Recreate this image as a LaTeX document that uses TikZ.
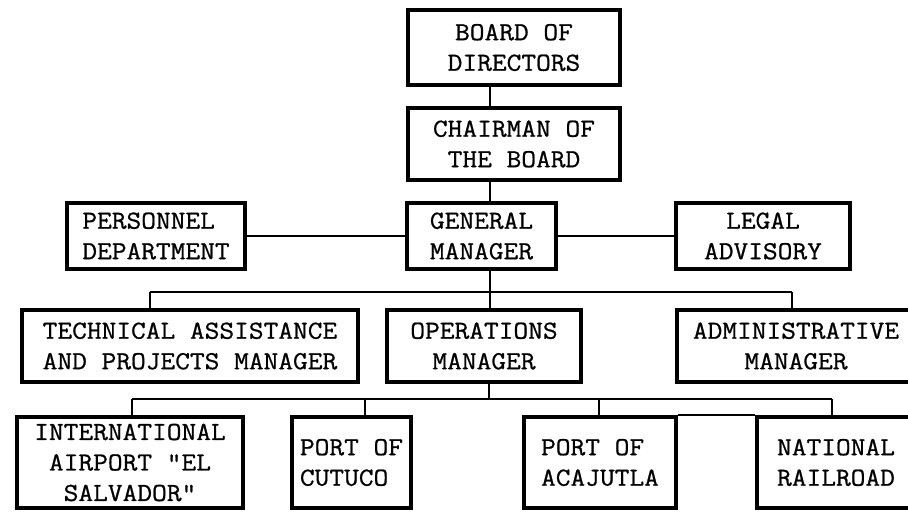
\documentclass[tikz,border=0pt]{standalone}
\usepackage{fontspec}
\newfontfamily\typefont[FakeStretch=1.1,FakeBold=0.8]{Latin Modern Mono}
\begin{document}
\begin{tikzpicture}[x=1pt,y=-1pt,
  orgbox/.style={draw, line width=3.4pt, inner sep=0pt, align=center,
    font=\typefont\fontsize{26}{30.5}\selectfont},
  conn/.style={line width=2pt}]
\useasboundingbox[fill=white] (0,0) rectangle (908,513);
% row 1
\node[orgbox, minimum width=212pt, minimum height=75pt] (board) at (514,47.5) {BOARD OF\\DIRECTORS};
\node[orgbox, minimum width=212pt, minimum height=72pt] (chair) at (514,144) {CHAIRMAN OF\\THE BOARD};
% row 2
\node[orgbox, minimum width=178pt, minimum height=66pt, align=left] (pers) at (156,236) {PERSONNEL\\DEPARTMENT};
\node[orgbox, minimum width=149pt, minimum height=66pt] (gm) at (481.5,236) {GENERAL\\MANAGER};
\node[orgbox, minimum width=174pt, minimum height=66pt] (legal) at (763,236) {LEGAL\\ADVISORY};
% row 3
\node[orgbox, minimum width=336pt, minimum height=72pt] (tech) at (190,346) {TECHNICAL ASSISTANCE\\AND PROJECTS MANAGER};
\node[orgbox, minimum width=238pt, minimum height=72pt, text width=232pt] (admin) at (796,346) {ADMINISTRATIVE\\MANAGER};
\node[orgbox, minimum width=194pt, minimum height=72pt] (ops) at (484,346) {OPERATIONS\\MANAGER};
% row 4
\node[orgbox, minimum width=226pt, minimum height=91pt] (airport) at (130,462.5) {INTERNATIONAL\\AIRPORT "EL\\SALVADOR"};
\node[orgbox, minimum width=119pt, minimum height=91pt, align=left] (cutuco) at (351.5,462.5) {PORT OF\\CUTUCO};
\node[orgbox, minimum width=152pt, minimum height=91pt, align=left] (acaj) at (600,462.5) {PORT OF\\ACAJUTLA};
\node[orgbox, minimum width=158pt, minimum height=91pt, text width=150pt] (natl) at (836,462.5) {NATIONAL\\RAILROAD};
% coordinates
\coordinate (spine) at (490,0);
\coordinate (b1l) at (150,292);
\coordinate (b1m) at (490,292);
\coordinate (b1r) at (792,292);
\coordinate (s2) at (489,399);
\coordinate (b2a) at (132,399);
\coordinate (b2b) at (365,399);
\coordinate (b2c) at (599,399);
\coordinate (b2d) at (832,399);
% connectors
\draw[conn] (board.south -| spine) -- (chair.north -| spine);
\draw[conn] (chair.south -| spine) -- (gm.north -| spine);
\draw[conn] (pers.east) -- (gm.west);
\draw[conn] (gm.east) -- (legal.west);
\draw[conn] (gm.south -| spine) -- (b1m);
\draw[conn] (b1l) -- (b1r);
\draw[conn] (b1l) -- (b1l |- tech.north);
\draw[conn] (b1m) -- (b1m |- ops.north);
\draw[conn] (b1r) -- (b1r |- admin.north);
\draw[conn] (ops.south -| s2) -- (s2);
\draw[conn] (b2a) -- (b2d);
\draw[conn] (b2a) -- (b2a |- airport.north);
\draw[conn] (b2b) -- (b2b |- cutuco.north);
\draw[conn] (b2c) -- (b2c |- acaj.north);
\draw[conn] (b2d) -- (b2d |- natl.north);
\draw[line width=2pt] (acaj.north east) -- (natl.north west);
\end{tikzpicture}
\end{document}
